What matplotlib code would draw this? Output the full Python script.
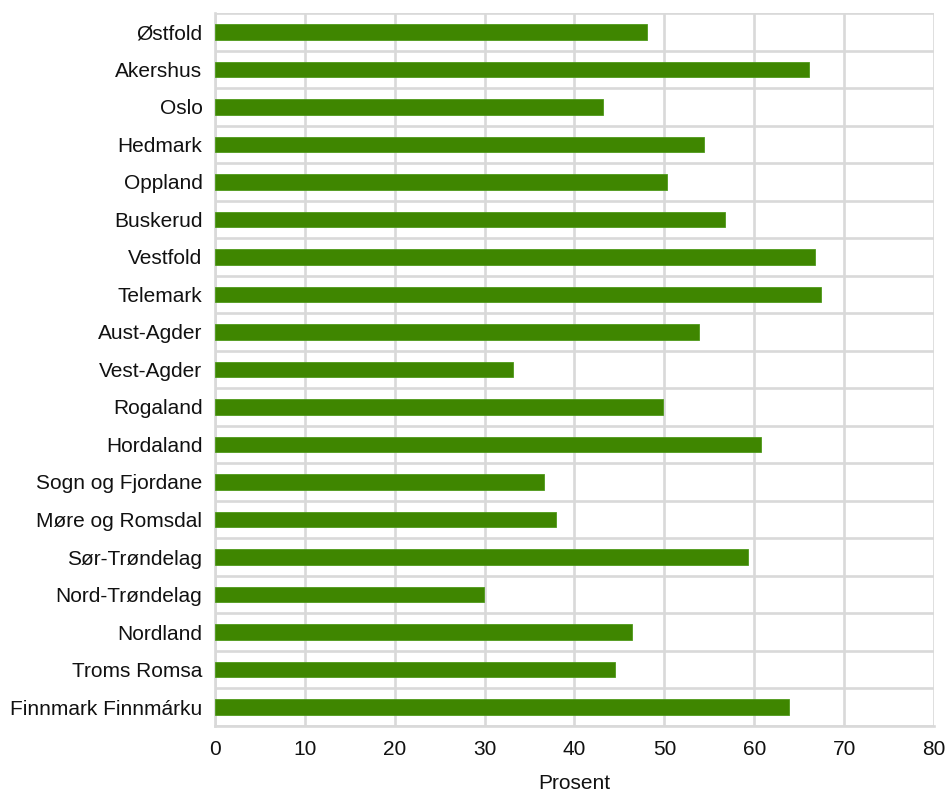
import matplotlib
matplotlib.use('Agg')
import matplotlib.pyplot as plt
import numpy as np

FYLKER = ['Østfold', 'Akershus', 'Oslo', 'Hedmark', 'Oppland', 'Buskerud',
          'Vestfold', 'Telemark', 'Aust-Agder', 'Vest-Agder', 'Rogaland',
          'Hordaland', 'Sogn og Fjordane', 'Møre og Romsdal', 'Sør-Trøndelag',
          'Nord-Trøndelag', 'Nordland', 'Troms Romsa', 'Finnmark Finnmárku']
PROSENT = [48.1, 66.1, 43.2, 54.4, 50.3, 56.8, 66.8, 67.4, 53.9, 33.2,
           49.8, 60.7, 36.6, 37.9, 59.3, 29.9, 46.4, 44.5, 63.9]
X_TICKS = [0, 10, 20, 30, 40, 50, 60, 70, 80]

GRID = '#d9d9d9'
BAR = '#3f8600'

plt.rcParams['font.family'] = ['Liberation Sans', 'DejaVu Sans']

fig = plt.figure(figsize=(9.47, 7.98), dpi=100)
ax = fig.add_axes([0.227, 0.0905, 0.7593, 0.893])

y = np.arange(len(FYLKER))
ax.barh(y, PROSENT, height=0.42, color=BAR, edgecolor='#4e9a1a', lw=0.6, zorder=3)

ax.set_xlim(0, 80)
ax.set_ylim(len(FYLKER) - 0.5, -0.5)
ax.set_xticks(X_TICKS)
ax.set_xticklabels([str(t) for t in X_TICKS])
ax.set_yticks(y)
ax.set_yticklabels(FYLKER)
ax.set_yticks(np.arange(len(FYLKER) + 1) - 0.5, minor=True)

ax.tick_params(axis='both', which='both', length=0, labelsize=15, colors='#111111')
ax.tick_params(axis='x', pad=10)
ax.tick_params(axis='y', pad=9)

ax.grid(axis='x', which='major', color=GRID, lw=1.9, zorder=0)
ax.grid(axis='y', which='minor', color=GRID, lw=1.9, zorder=0)
ax.set_axisbelow(True)

for side in ['top', 'right']:
    ax.spines[side].set_visible(False)
for side in ['left', 'bottom']:
    ax.spines[side].set_color(GRID)
    ax.spines[side].set_linewidth(1.9)

ax.set_xlabel('Prosent', fontsize=15, color='#111111', labelpad=11)

fig.savefig('out.png', dpi=100)
